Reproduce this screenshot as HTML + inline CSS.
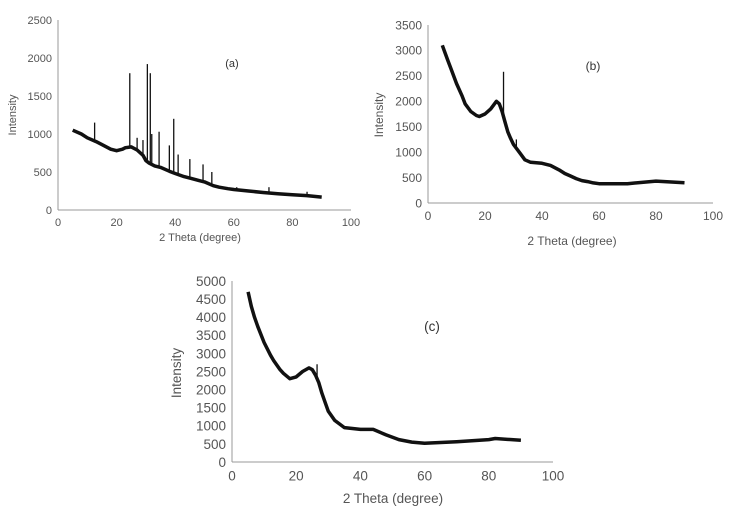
<!DOCTYPE html>
<html><head><meta charset="utf-8"><style>
html,body{margin:0;padding:0;background:#fff;}
svg{display:block;font-family:"Liberation Sans",sans-serif;}
</style></head><body>
<svg id="s" width="733" height="515" viewBox="0 0 733 515"></svg>
<script>
// ---- data ----
const xTicks = [0,20,40,60,80,100];
const aYTicks = [0,500,1000,1500,2000,2500];
const bYTicks = [0,500,1000,1500,2000,2500,3000,3500];
const cYTicks = [0,500,1000,1500,2000,2500,3000,3500,4000,4500,5000];
const aX = [5,8,10,13,15,18,20,22,23,25,27,29,30,31,33,35,38,40,43,45,48,50,53,55,58,60,65,70,75,80,85,90];
const aY = [1050,1000,950,900,860,800,780,800,820,830,790,720,650,620,580,560,510,480,440,420,390,370,320,300,280,270,250,230,215,200,190,170];
const aPeakX = [12.5,24.5,27,29,30.5,31.5,32,34.5,38,39.5,41,45,49.5,52.5,61,72,85];
const aPeakY = [1150,1800,950,920,1920,1800,1000,1030,850,1200,730,670,600,500,300,300,240];
const bX = [5,6,7,8,10,12,13,15,17,18,20,22,24,25,26,27,28,29,30,32,34,36,40,43,46,48,50,52,54,56,58,60,70,80,90];
const bY = [3100,2950,2800,2650,2350,2100,1950,1800,1720,1700,1750,1850,2000,1950,1800,1600,1400,1270,1150,1000,850,800,780,740,650,580,530,480,440,420,395,380,380,430,400];
const bPeakX = [26.5,31];
const bPeakY = [2580,1250];
const cX = [5,6,7,8,10,12,13,15,16,18,20,22,24,25,26,27,28,29,30,32,35,40,44,48,52,56,60,70,80,82,90];
const cY = [4700,4300,4000,3750,3300,2950,2800,2550,2450,2300,2350,2500,2600,2550,2400,2200,1900,1650,1400,1150,950,900,900,750,620,550,520,560,620,650,600];
const cPeakX = [26.5];
const cPeakY = [2700];

const NS="http://www.w3.org/2000/svg";
const svg=document.getElementById('s');
function mk(tag,attrs,parent){const e=document.createElementNS(NS,tag);for(const k in attrs)e.setAttribute(k,attrs[k]);(parent||svg).appendChild(e);return e;}
function interp(xs,ys,x){for(let i=0;i<xs.length-1;i++){if(x>=xs[i]&&x<=xs[i+1]){const t=(x-xs[i])/(xs[i+1]-xs[i]);return ys[i]+t*(ys[i+1]-ys[i]);}}return ys[ys.length-1];}

function chart(id,cfg,yTicks,xs,ys,px,py){
  const g=mk('g',{});
  
  
  const yMax=yTicks[yTicks.length-1];
  const sx=v=>cfg.x0+(v/100)*(cfg.x1-cfg.x0);
  const sy=v=>cfg.y0-(v/yMax)*(cfg.y0-cfg.y1);
  const ya=mk('line',{x1:cfg.x0,y1:cfg.y1,x2:cfg.x0,y2:cfg.y0,stroke:'#999','stroke-width':1},g);
  
  
  const xa=mk('line',{x1:cfg.x0,y1:cfg.y0,x2:cfg.x1,y2:cfg.y0,stroke:'#999','stroke-width':1},g);
  
  
  yTicks.forEach(v=>{
    const t=mk('text',{x:cfg.x0-6,y:sy(v)+cfg.fs*0.36,'text-anchor':'end','font-size':cfg.fs,fill:'#555'},g);
    t.textContent=v;
    
    
  });
  xTicks.forEach(v=>{
    const t=mk('text',{x:sx(v),y:cfg.y0+cfg.fs+5,'text-anchor':'middle','font-size':cfg.fs,fill:'#555'},g);
    t.textContent=v;
    
    
  });
  const yt=mk('text',{x:cfg.ytx,y:cfg.yty,'text-anchor':'middle','font-size':cfg.fs,fill:'#555',transform:`rotate(-90 ${cfg.ytx} ${cfg.yty})`},g);
  yt.textContent='Intensity';
  
  
  const xt=mk('text',{x:cfg.xtx,y:cfg.xty,'text-anchor':'middle','font-size':cfg.fs,fill:'#555','xml:space':'preserve'},g);
  xt.textContent=cfg.xtitle;
  
  
  const lb=mk('text',{x:cfg.lx,y:cfg.ly,'text-anchor':'middle','font-size':cfg.fs,fill:'#333'},g);
  lb.textContent='('+id+')';
  
  
  let d='';
  xs.forEach((x,i)=>{d+=(i?'L':'M')+sx(x).toFixed(1)+','+sy(ys[i]).toFixed(1);});
  const p=mk('path',{d:d,fill:'none',stroke:'#111','stroke-width':cfg.sw,'stroke-linejoin':'round'},g);
  
  
  px.forEach((x,i)=>{
    const base=interp(xs,ys,x);
    const l=mk('line',{x1:sx(x),y1:sy(base),x2:sx(x),y2:sy(py[i]),stroke:'#111','stroke-width':1.3},g);
    
    
  });
}
chart('a',{x0:58,x1:351,y0:210,y1:20,fs:11,sw:3.5,ytx:16,yty:115,xtx:200,xty:241,xtitle:'2 Theta  (degree)',lx:232,ly:67},aYTicks,aX,aY,aPeakX,aPeakY);
chart('b',{x0:428,x1:713,y0:203,y1:25,fs:12,sw:3.5,ytx:383,yty:115,xtx:572,xty:245,xtitle:'2 Theta  (degree)',lx:593,ly:70},bYTicks,bX,bY,bPeakX,bPeakY);
chart('c',{x0:232,x1:553,y0:462,y1:281,fs:13.5,sw:3.5,ytx:181,yty:373,xtx:393,xty:503,xtitle:'2 Theta  (degree)',lx:432,ly:331},cYTicks,cX,cY,cPeakX,cPeakY);
</script>
</body></html>
